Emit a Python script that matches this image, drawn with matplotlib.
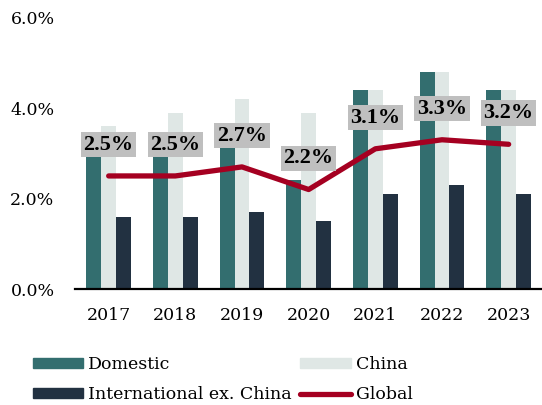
import numpy as np
import matplotlib.pyplot as plt
from matplotlib.patches import Patch
from matplotlib.lines import Line2D

years = ['2017', '2018', '2019', '2020', '2021', '2022', '2023']
domestic = [3.2, 3.2, 3.4, 2.4, 4.4, 4.8, 4.4]
china = [3.6, 3.9, 4.2, 3.9, 4.4, 4.8, 4.4]
intl_ex_china = [1.6, 1.6, 1.7, 1.5, 2.1, 2.3, 2.1]
global_avg = [2.5, 2.5, 2.7, 2.2, 3.1, 3.3, 3.2]

c_dom = '#336E6F'
c_china = '#DFE7E5'
c_intl = '#223141'
c_global = '#A50021'

plt.rcParams['font.family'] = ['DejaVu Serif']

fig = plt.figure(figsize=(5.42, 4.05), dpi=100)
ax = fig.add_axes([0.139, 0.2864, 0.861, 0.670])

x = np.arange(len(years))
w = 0.223
ax.bar(x - w, domestic, w, color=c_dom, zorder=1)
ax.bar(x, china, w, color=c_china, zorder=1)
ax.bar(x + w, intl_ex_china, w, color=c_intl, zorder=1)
ax.plot(x, global_avg, color=c_global, lw=3.8, solid_capstyle='round', zorder=3)

# value labels sit on grey boxes above each point of the global line
for xi, v in zip(x, global_avg):
    ax.annotate(f'{v:.1f}%', (xi, v), xytext=(0, 22.5), textcoords='offset points',
                ha='center', va='center', fontsize=16, fontweight='bold', zorder=4,
                family='Liberation Serif',
                bbox=dict(boxstyle='square,pad=0.12', fc='#BFBFBF', ec='none'))

ax.set_xlim(-0.5, len(years) - 0.5)
ax.set_ylim(0, 6)
ax.set_yticks([0, 2, 4, 6])
ax.set_yticklabels(['0.0%', '2.0%', '4.0%', '6.0%'])
ax.set_xticks(x)
ax.set_xticklabels(years)
ax.tick_params(length=0, labelsize=12.5, pad=13)
ax.tick_params(axis='y', pad=15)
for s in ['top', 'right', 'left']:
    ax.spines[s].set_visible(False)
ax.spines['bottom'].set_linewidth(1.6)

handles = [Patch(color=c_dom), Patch(color=c_intl), Patch(color=c_china),
           Line2D([], [], color=c_global, lw=3.8, solid_capstyle='round')]
labels = ['Domestic', 'International ex. China', 'China', 'Global']
fig.legend(handles, labels, ncol=2, loc='upper left', bbox_to_anchor=(0.06, 0.12),
           frameon=False, fontsize=12.5, handlelength=2.9, handleheight=0.5,
           handletextpad=0.3, columnspacing=0.5, labelspacing=0.75,
           borderpad=0, borderaxespad=0)

fig.savefig('out.png', dpi=100)
